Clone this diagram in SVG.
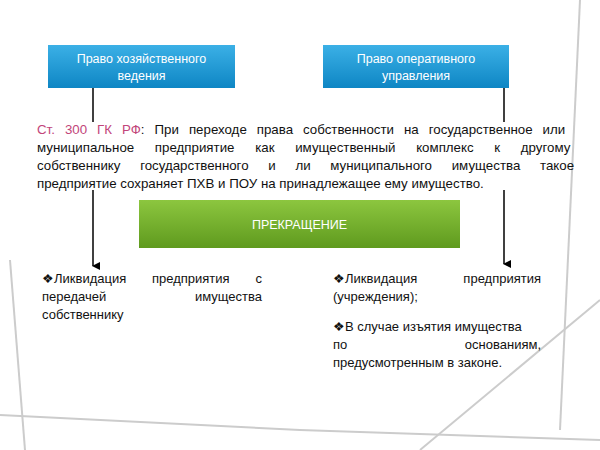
<svg xmlns="http://www.w3.org/2000/svg" width="600" height="450" viewBox="0 0 600 450">
<defs>
<linearGradient id="blue" x1="0" y1="0" x2="0" y2="1"><stop offset="0" stop-color="#3bb0e6"/><stop offset="1" stop-color="#0e86c4"/></linearGradient>
<linearGradient id="green" x1="0" y1="0" x2="0" y2="1"><stop offset="0" stop-color="#8cc63f"/><stop offset="1" stop-color="#5f9a1e"/></linearGradient>
<marker id="arr" markerWidth="8" markerHeight="8" refX="4" refY="7" orient="auto" markerUnits="userSpaceOnUse"><path d="M0,0 L8,0 L4,8 z" fill="#000"/></marker>
<style>
.t{font-family:"Liberation Sans",Arial,sans-serif;font-size:13px;fill:#111}
.p{font-size:13.3px}
.e{text-anchor:end}
.w{font-family:"Liberation Sans",Arial,sans-serif;font-size:12.5px;fill:#fff;text-anchor:middle}
.c{stroke:#000;stroke-width:1.5;fill:none}
</style>
</defs>
<rect width="600" height="450" fill="#fff"/>
<g stroke="#ccc" stroke-width="2" fill="none">
<path d="M0,415 L300,430 L600,440"/>
<path d="M10,260 L25,450"/>
<path d="M580,0 L560,430"/>
<path d="M420,450 L600,300"/>
</g>
<g id="connectors">
<line class="c" x1="93" y1="88" x2="93" y2="122"/>
<line class="c" x1="93" y1="190" x2="93" y2="266" marker-end="url(#arr)"/>
<line class="c" x1="504" y1="88" x2="504" y2="122"/>
<line class="c" x1="504" y1="190" x2="504" y2="264" marker-end="url(#arr)"/>
</g>
<g id="node-pxv">
<rect x="48" y="45" width="187" height="43" fill="url(#blue)"/>
<text class="w" x="141.5" y="63">Право хозяйственного</text>
<text class="w" x="141.5" y="80">ведения</text>
</g>
<g id="node-pou">
<rect x="323" y="45" width="186" height="43" fill="url(#blue)"/>
<text class="w" x="416" y="63">Право оперативного</text>
<text class="w" x="416" y="80">управления</text>
</g>
<g id="text-block">
<text class="t p" x="37" y="134" word-spacing="6.3"><tspan fill="#c2457a">Ст. 300 ГК РФ</tspan>: При переходе права собственности на государственное или</text>
<text class="t p" x="37" y="152" word-spacing="17">муниципальное предприятие как имущественный комплекс к другому</text>
<text class="t p" x="37" y="170" word-spacing="16">собственнику государственного и ли муниципального имущества такое</text>
<text class="t p" x="37" y="188">предприятие сохраняет ПХВ и ПОУ на принадлежащее ему имущество.</text>
</g>
<g id="node-end">
<rect x="139" y="200" width="321" height="48" fill="url(#green)"/>
<text class="w" x="299.5" y="229">ПРЕКРАЩЕНИЕ</text>
</g>
<g id="list-left">
<text class="t" x="42" y="283">❖Ликвидация</text>
<text class="t" x="152" y="283">предприятия</text>
<text class="t e" x="262" y="283">с</text>
<text class="t" x="42" y="301">передачей</text>
<text class="t e" x="262" y="301">имущества</text>
<text class="t" x="42" y="319">собственнику</text>
</g>
<g id="list-right">
<text class="t" x="333" y="283">❖Ликвидация</text>
<text class="t e" x="541" y="283">предприятия</text>
<text class="t" x="333" y="301">(учреждения);</text>
<text class="t" x="333" y="331">❖В случае изъятия имущества</text>
<text class="t" x="333" y="349">по</text>
<text class="t e" x="541" y="349">основаниям,</text>
<text class="t" x="333" y="367">предусмотренным в законе.</text>
</g>
</svg>
